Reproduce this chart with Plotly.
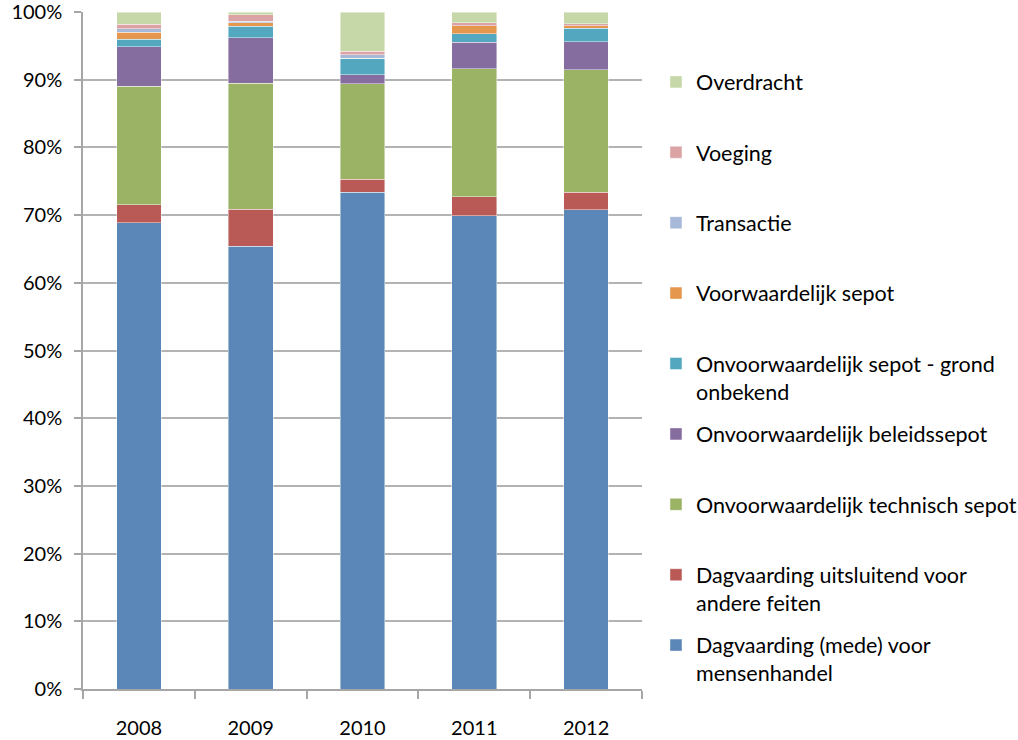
import plotly.graph_objects as go

years = ["2008", "2009", "2010", "2011", "2012"]

mensenhandel = [68.9, 65.4, 73.4, 69.9, 70.8]
andere_feiten = [2.6, 5.5, 1.9, 2.8, 2.6]
technisch_sepot = [17.5, 18.6, 14.1, 18.9, 18.1]
beleidssepot = [5.9, 6.7, 1.3, 3.9, 4.1]
grond_onbekend = [1.1, 1.7, 2.5, 1.3, 2.0]
voorwaardelijk = [1.0, 0.5, 0.0, 1.2, 0.4]
transactie = [0.5, 0.2, 0.5, 0.0, 0.0]
voeging = [0.7, 1.0, 0.5, 0.4, 0.3]
overdracht = [1.8, 0.4, 5.8, 1.6, 1.7]

series = [
    ("Dagvaarding (mede) voor<br>mensenhandel", mensenhandel, "#5A86B8"),
    ("Dagvaarding uitsluitend voor<br>andere feiten", andere_feiten, "#B95A56"),
    ("Onvoorwaardelijk technisch sepot<br> ", technisch_sepot, "#9AB365"),
    ("Onvoorwaardelijk beleidssepot<br> ", beleidssepot, "#866D9F"),
    ("Onvoorwaardelijk sepot - grond<br>onbekend", grond_onbekend, "#53A8BF"),
    ("Voorwaardelijk sepot<br> ", voorwaardelijk, "#E5974E"),
    ("Transactie<br> ", transactie, "#A7B9D8"),
    ("Voeging<br> ", voeging, "#DBA3A3"),
    ("Overdracht<br> ", overdracht, "#C6D8A8"),
]

FONT = "Lato"

fig = go.Figure()
n = len(series)
for i, (name, vals, col) in enumerate(series):
    fig.add_trace(go.Bar(
        x=years, y=vals, name=name, legendgroup=f"g{i}",
        legendrank=100 + (n - i),
        marker=dict(color=col, line=dict(color="rgba(255,255,255,0.55)", width=0.8)),
    ))

fig.update_layout(
    barmode="stack",
    barnorm="percent",
    bargap=0.6,
    width=1018, height=740,
    margin=dict(l=83, r=376, t=12, b=51, autoexpand=False),
    paper_bgcolor="white", plot_bgcolor="white",
    font=dict(family=FONT, size=20, color="#000000"),
    legend=dict(
        x=1.025, xanchor="left", xref="paper",
        y=0.927, yanchor="top",
        traceorder="grouped",
        valign="top",
        tracegroupgap=11.5,
        font=dict(family=FONT, size=21.5, color="#000000"),
        itemclick=False,
    ),
    showlegend=True,
)
fig.update_xaxes(
    showline=True, linecolor="#A6A6A6", linewidth=1.5,
    ticks="outside", tickson="boundaries", ticklen=8, tickcolor="#A6A6A6", tickwidth=1.5,
    showgrid=False, automargin=False,
    tickfont=dict(family=FONT, size=20, color="#000000"),
    ticklabelstandoff=20,
)
fig.update_yaxes(
    range=[0, 100], tick0=0, dtick=10, ticksuffix="%",
    showline=True, linecolor="#A6A6A6", linewidth=1.5,
    ticks="outside", ticklen=7, tickcolor="#A6A6A6", tickwidth=1.5,
    showgrid=True, gridcolor="#B3B3B3", gridwidth=1.5,
    zeroline=False, automargin=False,
    tickfont=dict(family=FONT, size=20, color="#000000"),
    ticklabelstandoff=8,
    ticklabeloverflow="allow",
)

fig.write_html("out.html", config={"displayModeBar": False},
               post_script="document.body.style.margin='0';")
